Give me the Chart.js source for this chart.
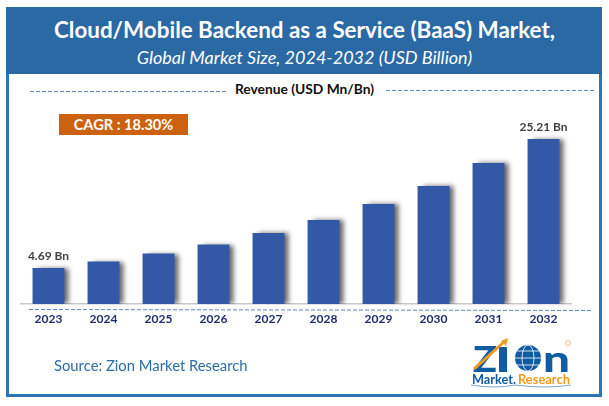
<!DOCTYPE html>
<html><head><meta charset="utf-8">
<script src="https://cdn.jsdelivr.net/npm/chart.js@4"></script>
<style>
html,body{margin:0;padding:0;background:#fff;}
#wrap{position:relative;width:609px;height:406px;overflow:hidden;font-family:Lato,sans-serif;}
#frame{position:absolute;left:6px;top:7px;width:590px;height:384px;border:3px solid #2e75b6;}
#head{position:absolute;left:6px;top:7px;width:596px;height:67px;background:#2b69a5;}
.t{position:absolute;white-space:nowrap;}
#c{position:absolute;left:0;top:0;}
svg{position:absolute;left:0;top:0;}
</style></head><body>
<div id="wrap">
<div id="frame"></div><div id="head"></div>
<div class="t" id="t1" style="left:0;width:609px;text-align:center;top:15px;color:#fff;font-weight:700;font-size:22.4px;line-height:30px;">Cloud/Mobile Backend as a Service (BaaS) Market,</div>
<div class="t" id="t2" style="left:0;width:609px;text-align:center;top:46px;color:#fff;font-style:italic;font-size:18px;line-height:22px;">Global Market Size, 2024-2032 (USD Billion)</div>
<div class="t" style="left:0;width:609px;text-align:center;top:80px;color:#111;font-weight:700;font-size:13.8px;line-height:18px;">Revenue (USD Mn/Bn)</div>
<canvas id="c" width="609" height="406" style="width:609px;height:406px"></canvas>
<svg width="609" height="406">
<g stroke="#5b87c5" stroke-width="1" stroke-dasharray="4 2" fill="none">
<line x1="30" y1="91.5" x2="226" y2="91.5"/><line x1="386" y1="90.5" x2="596" y2="90.5"/>
<line x1="29" y1="309.5" x2="592" y2="310.5"/></g>
</svg>
<div class="t" style="left:59px;top:114px;width:129px;height:21px;background:#cc610f;color:#fff;font-weight:700;font-size:14.6px;line-height:21px;text-align:center;">CAGR : 18.30%</div>
<div class="t" style="left:54px;top:355px;color:#2e6da4;font-size:14.8px;line-height:20px;">Source: Zion Market Research</div>
<svg width="609" height="406">
<text x="473" y="372" font-family="Lato" font-weight="900" font-size="36" fill="#0f5ca3" textLength="24" lengthAdjust="spacingAndGlyphs">Z</text>
<rect x="499" y="347" width="8" height="25" fill="#0f5ca3"/>
<line x1="474" y1="369" x2="505" y2="341" stroke="#f39a1e" stroke-width="3"/>
<polygon points="508,338 501,341 506,346" fill="#f39a1e"/>
<circle cx="528" cy="358" r="13" fill="#0f5ca3"/>
<ellipse cx="528" cy="358" rx="6" ry="13" fill="none" stroke="#fff" stroke-width=".8"/>
<line x1="515" y1="358" x2="541" y2="358" stroke="#fff" stroke-width=".8"/>
<line x1="517" y1="351" x2="539" y2="351" stroke="#fff" stroke-width=".8"/>
<line x1="517" y1="365" x2="539" y2="365" stroke="#fff" stroke-width=".8"/>
<text x="543" y="372" font-family="Lato" font-weight="900" font-size="36" fill="#0f5ca3" textLength="27" lengthAdjust="spacingAndGlyphs">n</text>
<text x="472" y="384" font-family="Lato" font-weight="700" font-size="12.5" fill="#0f5ca3" textLength="44" lengthAdjust="spacingAndGlyphs">Market.</text>
<text x="518" y="384" font-family="Lato" font-weight="700" font-size="12.5" fill="#f39a1e" textLength="52" lengthAdjust="spacingAndGlyphs">Research</text>
<path d="M471 385 Q495 389 515 385 Q545 389 571 385" fill="none" stroke="#7aa7d0" stroke-width="1"/>
<circle cx="568" cy="343" r="2.5" fill="none" stroke="#f7b267" stroke-width=".8"/>
</svg>
</div>
<script>
const years = ["2023","2024","2025","2026","2027","2028","2029","2030","2031","2032"];
const revenue = [4.69,5.72,6.99,8.42,10.25,12.32,14.86,17.72,21.38,25.21];
const barLabels = ["4.69 Bn","","","","","","","","","25.21 Bn"];
const axisFloor = -1.04;
const axisCeil = 31.41;
const barShadow = {
  id:'barShadow',
  beforeDatasetsDraw(ch){const x=ch.ctx;x.save();x.shadowColor='rgba(0,0,0,.6)';x.shadowBlur=5;x.shadowOffsetX=5;x.shadowOffsetY=0;},
  afterDatasetsDraw(ch){
    const x=ch.ctx;x.restore();
    x.save();x.font='700 12px Lato';x.fillStyle='#404040';x.textAlign='center';x.textBaseline='bottom';
    ch.getDatasetMeta(0).data.forEach((b,i)=>{if(barLabels[i])x.fillText(barLabels[i],b.x,b.y-6);});
    x.restore();
  }
};
new Chart(document.getElementById('c'),{
  type:'bar',
  data:{labels:years,datasets:[{data:revenue,base:axisFloor,backgroundColor:'#3358a6',borderWidth:0,barPercentage:.58,categoryPercentage:1}]},
  plugins:[barShadow],
  options:{
    responsive:false,animation:false,devicePixelRatio:1,
    layout:{padding:{left:21,right:38,top:100,bottom:0}},
    plugins:{legend:{display:false},tooltip:{enabled:false},title:{display:false}},
    scales:{
      x:{grid:{display:false,drawTicks:false},border:{display:true,color:'#c8c8c8',width:1.5},
         ticks:{color:'#1f2d6e',font:{family:'Lato',weight:'700',size:12},padding:8,maxRotation:0,autoSkip:false},
         afterFit(s){s.height=102;}},
      y:{display:false,min:axisFloor,max:axisCeil}
    }
  }
});
</script>
</body></html>
